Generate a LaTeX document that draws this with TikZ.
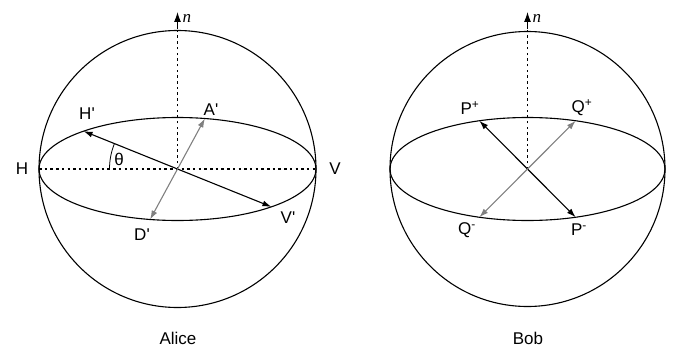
\documentclass[tikz,border=0pt]{standalone}
\usepackage{fontspec}
\setmainfont{Liberation Sans}
\newfontfamily\nfont{Liberation Serif}
\usetikzlibrary{arrows.meta,calc}
\definecolor{midgray}{HTML}{808080}

\begin{document}
\begin{tikzpicture}[x=1pt,y=1pt,line width=1.1pt,
  every node/.style={font=\fontsize{17}{20}\selectfont,inner sep=0pt},
  arrow/.style={{Latex[length=9pt,width=6pt]}-{Latex[length=9pt,width=6pt]},line width=1.1pt},
  axis/.style={dash pattern=on 2.5pt off 3.2pt,line width=1.1pt}]
\useasboundingbox (0,0) rectangle (674,349);
% Alice
\coordinate (ac) at (177.5,180);
\coordinate (atop) at (177.5,337);
\coordinate (ah) at ($(ac)+(-138.5,0)$);
\coordinate (av) at ($(ac)+(138.5,0)$);
\coordinate (ahp) at ($(ac)+(132.7:138.5pt and 51.5pt)$);
\coordinate (avp) at ($(ac)+(312.7:138.5pt and 51.5pt)$);
\coordinate (aap) at ($(ac)+(78.6:138.5pt and 51.5pt)$);
\coordinate (adp) at ($(ac)+(258.6:138.5pt and 51.5pt)$);
\draw (ac) circle[radius=138.5pt];
\draw (ac) ellipse[x radius=138.5pt,y radius=51.5pt];
\draw[axis] (ah) -- (av);
\draw[axis] (ac) -- ($(ac)+(0,140)$);
\draw[-{Latex[length=10pt,width=7pt]}] ($(ac)+(0,140)$) -- (atop);
\draw[arrow] (ahp) -- (avp);
\draw[arrow,midgray] (adp) -- (aap);
\draw[line width=0.8pt] ($(ac)+(180:68)$) arc[start angle=180,end angle=158,radius=68pt];
\node (an) [anchor=west] at (182,331) {\nfont\itshape n};
\node (lh) at (22,180) {H};
\node (lv) at (335,180) {V};
\node (lhp) at (87,235) {H\textquotesingle};
\node (lap) at (211,239) {A\textquotesingle};
\node (ldp) at (142,114) {D\textquotesingle};
\node (lvp) at (288,131) {V\textquotesingle};
\node (lth) at (119,190) {θ};
\node (alice) at (178,10.5) {Alice};
% Bob
\coordinate (bc) at (527.5,180);
\coordinate (btop) at (527.5,337);
\coordinate (bpp) at ($(bc)+(110.5:137.5pt and 51.5pt)$);
\coordinate (bpm) at ($(bc)+(290.5:137.5pt and 51.5pt)$);
\coordinate (bqp) at ($(bc)+(69.5:137.5pt and 51.5pt)$);
\coordinate (bqm) at ($(bc)+(249.5:137.5pt and 51.5pt)$);
\draw (bc) circle[radius=137.5pt];
\draw (bc) ellipse[x radius=137.5pt,y radius=51.5pt];
\draw[axis] (bc) -- ($(bc)+(0,140)$);
\draw[-{Latex[length=10pt,width=7pt]}] ($(bc)+(0,140)$) -- (btop);
\draw[arrow] (bpp) -- (bpm);
\draw[arrow,midgray] (bqm) -- (bqp);
\node (bn) [anchor=west] at (532,331) {\nfont\itshape n};
\node (lpp) at (470,241) {P\textsuperscript{+}};
\node (lqp) at (582,241) {Q\textsuperscript{+}};
\node (lqm) at (467,119) {Q\textsuperscript{-}};
\node (lpm) at (579,119) {P\textsuperscript{-}};
\node (bob) at (528,10.5) {Bob};
\end{tikzpicture}
\end{document}
